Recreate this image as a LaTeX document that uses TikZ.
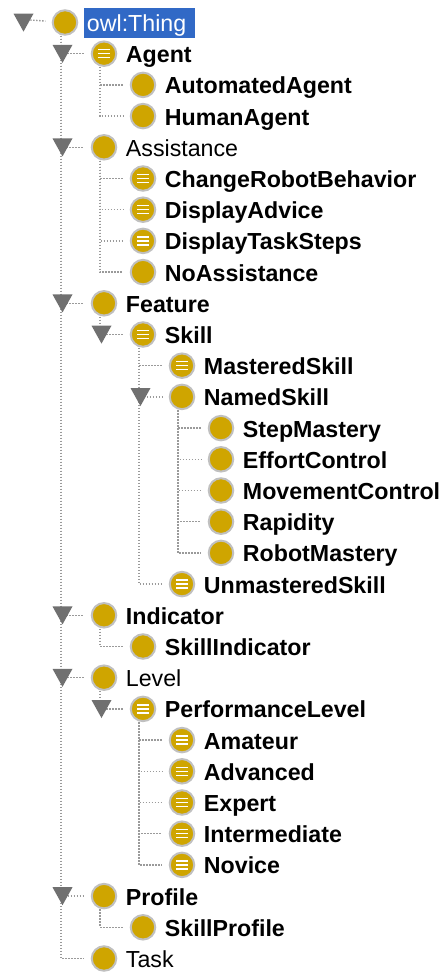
\documentclass[tikz,border=0pt]{standalone}
\usepackage{fontspec}
\setmainfont{Liberation Sans}
\usetikzlibrary{positioning,shapes.geometric}
\definecolor{classgold}{HTML}{CFA500}
\definecolor{selblue}{HTML}{3169C6}
\definecolor{ringgray}{HTML}{C0C0C0}
\definecolor{arrowgray}{HTML}{707070}
\definecolor{linegray}{HTML}{9A9A9A}
\begin{document}
\begin{tikzpicture}[auto,on grid,node distance=31.2pt and 39pt,
                    main node/.style={circle,draw=ringgray,fill=classgold,line width=2pt,
                                      inner sep=0pt,minimum size=24.5pt},
                    list node/.style={main node,path picture={
                      \foreach \d in {-4,0,4}
                        \draw[white,line width=1.5pt]
                          ([shift={(-6pt,\d pt)}]path picture bounding box.center) --
                          ([shift={(6pt,\d pt)}]path picture bounding box.center);}},
                    plain label/.style={on grid=false,inner sep=0pt,text height=22pt,text depth=4pt,
                                        font=\fontsize{23.2}{23.2}\selectfont},
                    bold label/.style={plain label,font=\fontsize{23.2}{23.2}\selectfont\bfseries},
                    toggle/.style={isosceles triangle,shape border rotate=-90,isosceles triangle apex angle=60,
                                   isosceles triangle stretches,fill=arrowgray,inner sep=0pt,
                                   minimum height=18pt,minimum width=20pt,yshift=3pt},
                    branch/.style={linegray,line width=1.4pt,dash pattern=on 1.5pt off 1.5pt,shorten >=6.5pt}]

  \useasboundingbox (0pt,0pt) rectangle (443pt,-972pt);

  \node[main node] (thing) at (65pt,-22.5pt) {};
  \node[list node] (agent) [below right=of thing] {};
  \node[main node] (automatedagent) [below right=of agent] {};
  \node[main node] (humanagent) [below=of automatedagent] {};
  \node[main node] (assistance) [below left=of humanagent] {};
  \node[list node] (changerobotbehavior) [below right=of assistance] {};
  \node[list node] (displayadvice) [below=of changerobotbehavior] {};
  \node[list node] (displaytasksteps) [below=of displayadvice] {};
  \node[main node] (noassistance) [below=of displaytasksteps] {};
  \node[main node] (feature) [below left=of noassistance] {};
  \node[list node] (skill) [below right=of feature] {};
  \node[list node] (masteredskill) [below right=of skill] {};
  \node[main node] (namedskill) [below=of masteredskill] {};
  \node[main node] (stepmastery) [below right=of namedskill] {};
  \node[main node] (effortcontrol) [below=of stepmastery] {};
  \node[main node] (movementcontrol) [below=of effortcontrol] {};
  \node[main node] (rapidity) [below=of movementcontrol] {};
  \node[main node] (robotmastery) [below=of rapidity] {};
  \node[list node] (unmasteredskill) [below left=of robotmastery] {};
  \node[main node] (indicator) [below left=31.2pt and 78pt of unmasteredskill] {};
  \node[main node] (skillindicator) [below right=of indicator] {};
  \node[main node] (level) [below left=of skillindicator] {};
  \node[list node] (performancelevel) [below right=of level] {};
  \node[list node] (amateur) [below right=of performancelevel] {};
  \node[list node] (advanced) [below=of amateur] {};
  \node[list node] (expert) [below=of advanced] {};
  \node[list node] (intermediate) [below=of expert] {};
  \node[list node] (novice) [below=of intermediate] {};
  \node[main node] (profile) [below left=31.2pt and 78pt of novice] {};
  \node[main node] (skillprofile) [below right=of profile] {};
  \node[main node] (task) [below left=of skillprofile] {};

  \node[plain label,fill=selblue,text=white,text width=105pt,inner sep=3pt,inner ysep=2pt] (thing l) [right=5.5pt of thing] {owl:Thing};
  \node[bold label] (agent l) [right=8.5pt of agent] {Agent};
  \node[bold label] (automatedagent l) [right=8.5pt of automatedagent] {AutomatedAgent};
  \node[bold label] (humanagent l) [right=8.5pt of humanagent] {HumanAgent};
  \node[plain label] (assistance l) [right=8.5pt of assistance] {Assistance};
  \node[bold label] (changerobotbehavior l) [right=8.5pt of changerobotbehavior] {ChangeRobotBehavior};
  \node[bold label] (displayadvice l) [right=8.5pt of displayadvice] {DisplayAdvice};
  \node[bold label] (displaytasksteps l) [right=8.5pt of displaytasksteps] {DisplayTaskSteps};
  \node[bold label] (noassistance l) [right=8.5pt of noassistance] {NoAssistance};
  \node[bold label] (feature l) [right=8.5pt of feature] {Feature};
  \node[bold label] (skill l) [right=8.5pt of skill] {Skill};
  \node[bold label] (masteredskill l) [right=8.5pt of masteredskill] {MasteredSkill};
  \node[bold label] (namedskill l) [right=8.5pt of namedskill] {NamedSkill};
  \node[bold label] (stepmastery l) [right=8.5pt of stepmastery] {StepMastery};
  \node[bold label] (effortcontrol l) [right=8.5pt of effortcontrol] {EffortControl};
  \node[bold label] (movementcontrol l) [right=8.5pt of movementcontrol] {MovementControl};
  \node[bold label] (rapidity l) [right=8.5pt of rapidity] {Rapidity};
  \node[bold label] (robotmastery l) [right=8.5pt of robotmastery] {RobotMastery};
  \node[bold label] (unmasteredskill l) [right=8.5pt of unmasteredskill] {UnmasteredSkill};
  \node[bold label] (indicator l) [right=8.5pt of indicator] {Indicator};
  \node[bold label] (skillindicator l) [right=8.5pt of skillindicator] {SkillIndicator};
  \node[plain label] (level l) [right=8.5pt of level] {Level};
  \node[bold label] (performancelevel l) [right=8.5pt of performancelevel] {PerformanceLevel};
  \node[bold label] (amateur l) [right=8.5pt of amateur] {Amateur};
  \node[bold label] (advanced l) [right=8.5pt of advanced] {Advanced};
  \node[bold label] (expert l) [right=8.5pt of expert] {Expert};
  \node[bold label] (intermediate l) [right=8.5pt of intermediate] {Intermediate};
  \node[bold label] (novice l) [right=8.5pt of novice] {Novice};
  \node[bold label] (profile l) [right=8.5pt of profile] {Profile};
  \node[bold label] (skillprofile l) [right=8.5pt of skillprofile] {SkillProfile};
  \node[plain label] (task l) [right=8.5pt of task] {Task};

  \foreach \parent/\kids in {thing/{agent,assistance,feature,indicator,level,profile,task},
                             agent/{automatedagent,humanagent},
                             assistance/{changerobotbehavior,displayadvice,displaytasksteps,noassistance},
                             feature/{skill},
                             skill/{masteredskill,namedskill,unmasteredskill},
                             namedskill/{stepmastery,effortcontrol,movementcontrol,rapidity,robotmastery},
                             indicator/{skillindicator},
                             level/{performancelevel},
                             performancelevel/{amateur,advanced,expert,intermediate,novice},
                             profile/{skillprofile}}
    \foreach \kid in \kids
      \draw[branch] ([xshift=-4pt]\parent.south) |- (\kid);

  \foreach \open in {thing,agent,assistance,feature,skill,namedskill,indicator,level,performancelevel,profile}
    \node[toggle] (toggle \open) [left=41.5pt of \open] {};

  \draw[branch] (toggle thing) -- (thing);
\end{tikzpicture}
\end{document}
